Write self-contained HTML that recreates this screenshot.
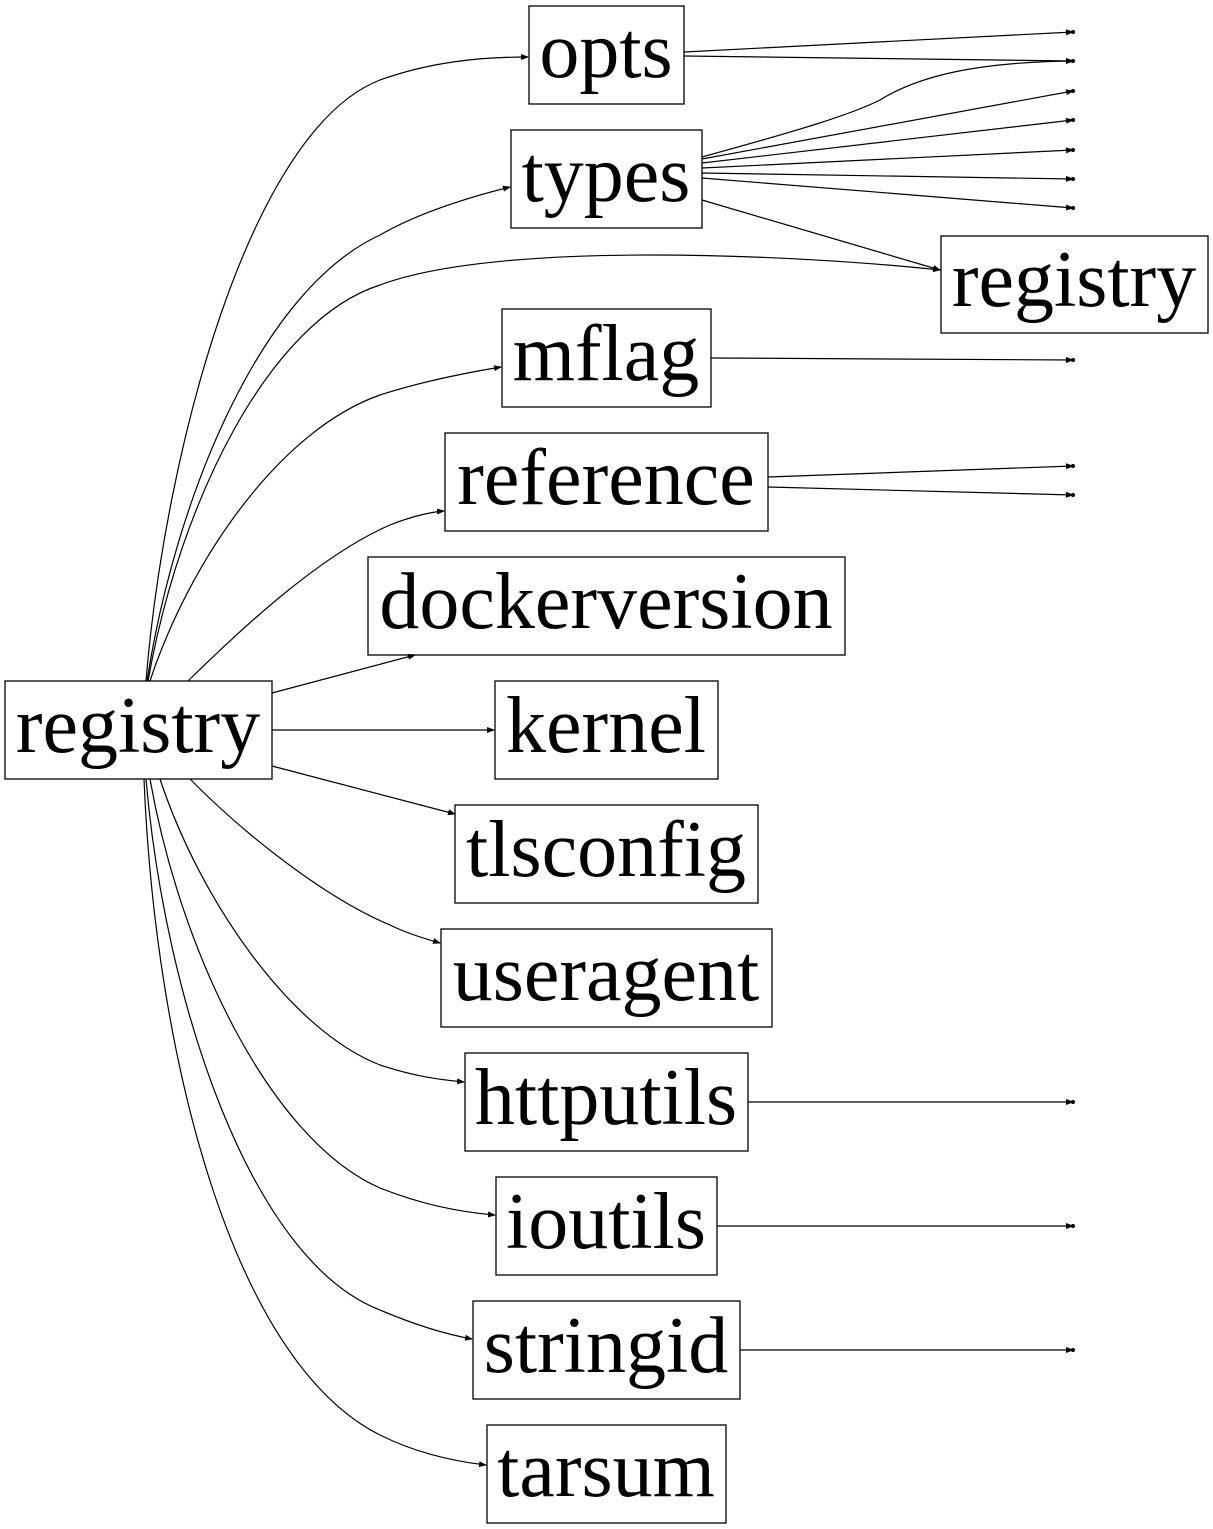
<!DOCTYPE html>
<html><head><style>body{margin:0;background:#fff}svg{display:block}text{font-family:"Liberation Serif",serif;font-size:80px;text-anchor:middle}</style></head><body>
<svg width="1213" height="1529" viewBox="0 0 1213 1529">
<defs><marker id="a" markerWidth="8" markerHeight="6" refX="7" refY="3" orient="auto" markerUnits="userSpaceOnUse"><path d="M0,0L8,3L0,6z" fill="#000"/></marker></defs>
<g fill="none" stroke="#000" stroke-width="1.3">
<rect x="529" y="6" width="155" height="98"/>
<rect x="511" y="130" width="191" height="98"/>
<rect x="941" y="236" width="267" height="97"/>
<rect x="502" y="309" width="209" height="98"/>
<rect x="445" y="433" width="323" height="98"/>
<rect x="368" y="557" width="477" height="98"/>
<rect x="495" y="681" width="223" height="98"/>
<rect x="455" y="805" width="303" height="98"/>
<rect x="441" y="929" width="331" height="98"/>
<rect x="465" y="1053" width="283" height="98"/>
<rect x="496" y="1177" width="221" height="98"/>
<rect x="473" y="1301" width="267" height="98"/>
<rect x="487" y="1425" width="239" height="98"/>
<rect x="5" y="681" width="267" height="98"/>
</g>
<g fill="none" stroke="#000" stroke-width="1.2" marker-end="url(#a)">
<path d="M146,681 C165,450 250,130 380,80 C430,62 480,57 528,57"/>
<path d="M147,681 C175,500 260,290 380,235 C420,212 470,197 510,187"/>
<path d="M148,681 C180,500 270,320 380,285 C500,240 800,255 940,270"/>
<path d="M150,681 C190,560 280,430 380,395 C420,382 465,373 501,367"/>
<path d="M188,681 C240,630 320,555 390,525 C410,517 430,512 444,511"/>
<path d="M272,693 L415,655"/>
<path d="M272,730 L494,730"/>
<path d="M272,766 L455,814"/>
<path d="M190,779 C250,840 330,900 390,925 C410,935 430,940 440,943"/>
<path d="M160,779 C200,900 290,1030 380,1065 C420,1078 445,1080 464,1082"/>
<path d="M150,779 C180,950 270,1140 380,1188 C430,1208 470,1213 495,1215"/>
<path d="M146,779 C165,1000 250,1260 380,1310 C420,1327 450,1335 472,1339"/>
<path d="M144,779 C155,1050 230,1360 380,1435 C420,1455 460,1462 486,1465"/>
<path d="M684,52 L1073,32"/>
<path d="M684,56 L1073,61"/>
<path d="M702,157 C800,130 850,115 880,100 C920,75 980,62 1073,61"/>
<path d="M702,159 L1073,91"/>
<path d="M702,163 L1073,120"/>
<path d="M702,168 L1073,150"/>
<path d="M702,173 L1073,179"/>
<path d="M702,178 L1073,208"/>
<path d="M702,200 L940,270"/>
<path d="M711,358 L1073,360"/>
<path d="M768,477 L1073,466"/>
<path d="M768,487 L1073,495"/>
<path d="M748,1102 L1073,1102"/>
<path d="M717,1226 L1073,1226"/>
<path d="M740,1350 L1073,1350"/>
</g>
<g fill="#000">
<circle cx="1073" cy="32" r="2"/><circle cx="1073" cy="61" r="2"/><circle cx="1073" cy="91" r="2"/><circle cx="1073" cy="120" r="2"/><circle cx="1073" cy="150" r="2"/><circle cx="1073" cy="179" r="2"/><circle cx="1073" cy="208" r="2"/><circle cx="1073" cy="360" r="2"/><circle cx="1073" cy="466" r="2"/><circle cx="1073" cy="495" r="2"/><circle cx="1073" cy="1102" r="2"/><circle cx="1073" cy="1226" r="2"/><circle cx="1073" cy="1350" r="2"/>
</g>
<text x="606" y="77">opts</text>
<text x="606" y="201">types</text>
<text x="1074" y="306">registry</text>
<text x="606" y="380">mflag</text>
<text x="606" y="504">reference</text>
<text x="606" y="628">dockerversion</text>
<text x="606" y="752">kernel</text>
<text x="606" y="876">tlsconfig</text>
<text x="606" y="1000">useragent</text>
<text x="606" y="1124">httputils</text>
<text x="606" y="1248">ioutils</text>
<text x="606" y="1372">stringid</text>
<text x="606" y="1496">tarsum</text>
<text x="138" y="752">registry</text>
</svg>
</body></html>
